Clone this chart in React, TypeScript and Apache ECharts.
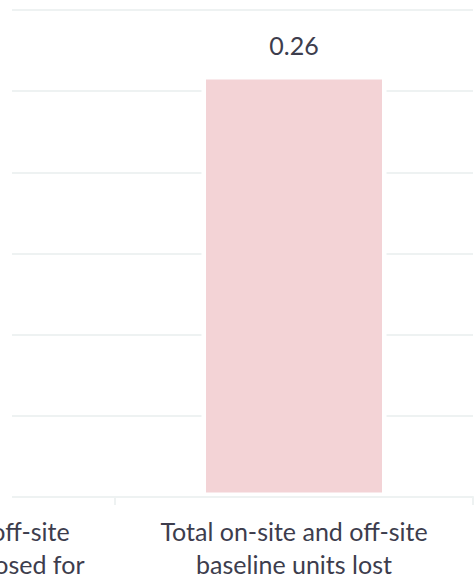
import React, { useEffect, useRef } from "react";
import * as echarts from "echarts";

const categories = [
  "Total on-site and off-site\nbaseline units proposed for",
  "Total on-site and off-site\nbaseline units lost",
];
const values = [0, 0.26];
const yTicks = { min: 0, max: 0.3, interval: 0.05 };

const TEXT = "#3d3d4d";
const GRID = "#eef2f2";
const BAR = "#f3d3d6";
const FONT = "Lato";

export default function App() {
  const ref = useRef<HTMLDivElement>(null);
  useEffect(() => {
    if (!ref.current) return;
    const chart = echarts.init(ref.current, undefined, { renderer: "svg" });
    chart.setOption({
      animation: false,
      backgroundColor: "#ffffff",
      textStyle: { fontFamily: FONT },
      grid: { left: 57, right: 27, top: 10, bottom: 87, containLabel: false },
      xAxis: {
        type: "category",
        data: categories,
        z: 5,
        axisLine: { show: true, lineStyle: { color: GRID, width: 2 } },
        axisTick: { show: true, length: 8, lineStyle: { color: GRID, width: 2 } },
        axisLabel: {
          color: TEXT,
          fontSize: 25,
          fontFamily: FONT,
          lineHeight: 33,
          margin: 17,
          interval: 0,
          align: "center",
        },
        splitLine: { show: false },
      },
      yAxis: {
        type: "value",
        min: yTicks.min,
        max: yTicks.max,
        interval: yTicks.interval,
        axisLabel: { show: false },
        axisLine: { show: false },
        axisTick: { show: false },
        splitLine: { show: true, lineStyle: { color: GRID, width: 2 } },
      },
      series: [
        {
          type: "bar",
          data: values,
          barWidth: 185,
          itemStyle: { color: BAR, borderColor: "#ffffff", borderWidth: 4.5 },
          label: {
            show: true,
            position: "top",
            distance: 17,
            color: TEXT,
            fontSize: 25,
            fontFamily: FONT,
            formatter: (p: any) => (p.value ? Number(p.value).toFixed(2) : ""),
          },
        },
      ],
      graphic: [
        {
          type: "rect",
          z: 100,
          shape: { x: 300, y: 0, width: 12, height: 505 },
          style: { fill: "#ffffff" },
        },
      ],
    });
    return () => chart.dispose();
  }, []);
  return (
    <div
      style={{
        position: "fixed",
        left: 0,
        top: 0,
        width: 475,
        height: 584,
        overflow: "hidden",
        background: "#fff",
      }}
    >
      <div
        ref={ref}
        style={{ position: "absolute", left: -300, top: 0, width: 800, height: 584 }}
      />
    </div>
  );
}
